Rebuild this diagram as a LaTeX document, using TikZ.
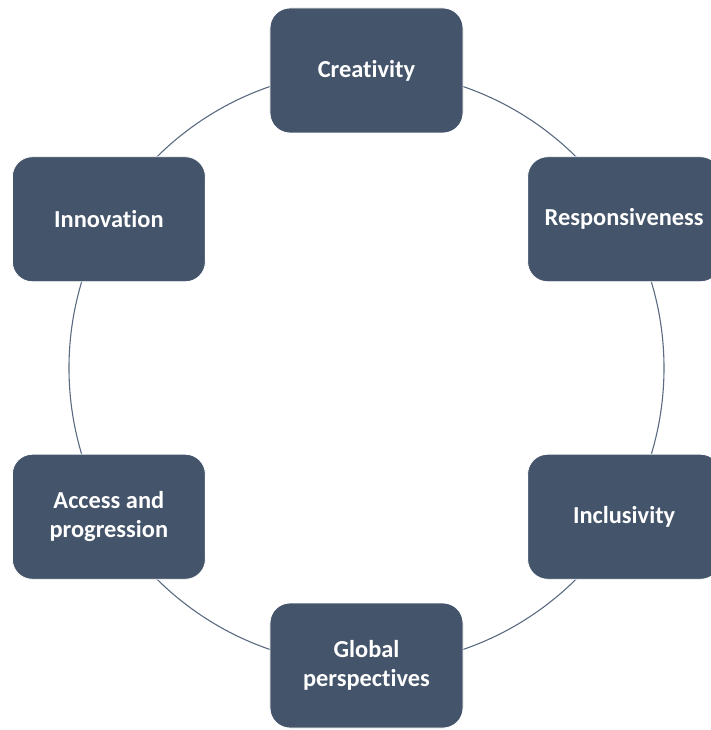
\documentclass[tikz,border=0pt]{standalone}
\usepackage{fontspec}
\setmainfont[Ligatures=NoCommon]{Carlito}
\definecolor{slate}{HTML}{44546A}
\definecolor{ringline}{HTML}{5A6A80}

\begin{document}
\begin{tikzpicture}[x=1bp,y=1bp,
    valuebox/.style={draw=white,line width=0.8bp,fill=slate,rounded corners=20bp,
      minimum width=193bp,minimum height=125bp,inner sep=0pt,
      text=white,align=center,font=\fontsize{24.5}{29}\selectfont\bfseries}]
        \useasboundingbox(-366.5,-362) rectangle (344.5,368);
        \clip(-366.5,-362) rectangle (344.5,368);
        \draw[ringline,line width=1.1bp](0,0)circle (297.5);
        \foreach \ang/\name/\txt in {90/creativity/Creativity,
            30/responsiveness/Responsiveness,
            -30/inclusivity/Inclusivity,
            -90/global/{Global\\perspectives},
            210/access/{Access and\\progression},
            150/innovation/Innovation}
            \node[valuebox](\name) at (\ang:297.5){\txt};
    \end{tikzpicture}
\end{document}
